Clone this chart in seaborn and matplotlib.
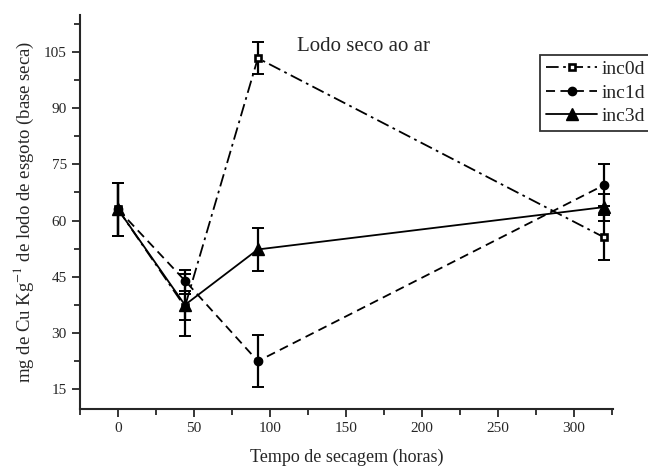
import matplotlib
matplotlib.use("Agg")
import matplotlib.pyplot as plt
from matplotlib.ticker import MultipleLocator
import seaborn as sns
import pandas as pd

# tempo de secagem (horas)
horas = [0, 44, 92, 320]

inc0d = [63, 37, 103.3, 55.5]
inc0d_err = [7, 3.5, 4.2, 6]
inc1d = [63, 44, 22.5, 69.5]
inc1d_err = [7, 2.8, 7, 5.5]
inc3d = [63, 37.5, 52.3, 63.6]
inc3d_err = [7, 8.2, 5.8, 3.6]

series = ["inc0d", "inc1d", "inc3d"]

sns.set_style("ticks")
plt.rcParams["font.family"] = ["Liberation Serif", "DejaVu Serif"]
plt.rcParams["mathtext.fontset"] = "stix"

df = pd.DataFrame({
    "horas": horas * 3,
    "valor": inc0d + inc1d + inc3d,
    "erro": inc0d_err + inc1d_err + inc3d_err,
    "serie": [s for s in series for _ in horas],
})

fig = plt.figure(figsize=(6.48, 4.71), dpi=100)
ax = fig.add_axes([0.1235, 0.132, 0.822, 0.836])

estilos = {
    "inc0d": dict(dashes=(7, 2.5, 1.5, 2.5), marker="s", ms=5, mfc="white", mew=1.9, z=3),
    "inc1d": dict(dashes=(5, 3), marker="o", ms=6, mfc="black", mew=1.0, z=4),
    "inc3d": dict(dashes=None, marker="^", ms=8.5, mfc="black", mew=1.0, z=5),
}

handles = []
for s in series:
    d = df[df["serie"] == s]
    ax.errorbar(d["horas"], d["valor"], yerr=d["erro"], fmt="none",
                ecolor="black", elinewidth=1.6, capsize=4, capthick=1.4, zorder=2)
    st = estilos[s]
    sns.lineplot(data=d, x="horas", y="valor", ax=ax, color="black", lw=1.3,
                 marker=st["marker"], markersize=st["ms"], markerfacecolor=st["mfc"],
                 markeredgecolor="black", markeredgewidth=st["mew"], label=s, zorder=st["z"])
    ln = ax.lines[-1]
    if st["dashes"] is not None:
        ln.set_dashes(st["dashes"])
    handles.append(ln)

ax.set_xlim(-25, 325.5)
ax.set_ylim(9.8, 114.8)
ax.xaxis.set_major_locator(MultipleLocator(50))
ax.xaxis.set_minor_locator(MultipleLocator(25))
ax.yaxis.set_major_locator(MultipleLocator(15))
ax.yaxis.set_minor_locator(MultipleLocator(7.5))
ax.tick_params(which="major", direction="out", length=6, width=1.3, labelsize=11)
ax.tick_params(which="minor", direction="out", length=4, width=1.3)
for sp in ["top", "right"]:
    ax.spines[sp].set_visible(False)
for sp in ["left", "bottom"]:
    ax.spines[sp].set_linewidth(1.5)

ax.set_xlabel("Tempo de secagem (horas)", fontsize=13, labelpad=10)
ax.set_ylabel("mg de Cu Kg$^{-1}$ de lodo de esgoto (base seca)", fontsize=13.5, labelpad=6)
ax.text(117.5, 106.5, "Lodo seco ao ar", fontsize=15, ha="left", va="center")

leg = ax.legend(handles=handles, labels=series, loc="upper left",
                bbox_to_anchor=(0.8635, 0.899), frameon=True, fancybox=False,
                edgecolor="black", fontsize=14, handlelength=2.65, handletextpad=0.2,
                borderpad=0.3, labelspacing=0.3, borderaxespad=0)
leg.get_frame().set_linewidth(1.3)

fig.savefig("out.png", dpi=100)
